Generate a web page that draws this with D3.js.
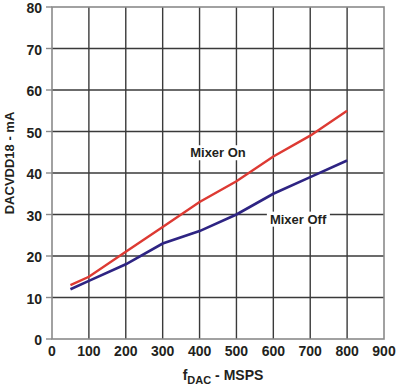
<!DOCTYPE html>
<html lang="en">
  <head>
    <meta charset="UTF-8" />
    <title>DACVDD18 current vs fDAC</title>
  </head>
  <style>
    * {
      margin: 0;
      padding: 0;
    }
    body {
      background: #fff;
    }
    text {
      font-family: "Liberation Sans", Arial, sans-serif;
      font-weight: bold;
      fill: #231f20;
    }
  </style>
  <body>
    <svg id="chart" width="403" height="385"></svg>
  </body>
  <script src="https://d3js.org/d3.v7.min.js"></script>
  <script>
    // 数据
    const fdac = [50, 100, 200, 300, 400, 500, 600, 700, 800];
    const mixerOn = [13, 15, 21, 27, 33, 38, 44, 49, 55];
    const mixerOff = [12, 14, 18, 23, 26, 30, 35, 39, 43];
    const xTicks = [0, 100, 200, 300, 400, 500, 600, 700, 800, 900];
    const yTicks = [0, 10, 20, 30, 40, 50, 60, 70, 80];

    const margin = { top: 7, left: 52, right: 19, bottom: 46 };
    const width = 403;
    const height = 385;

    const svg = d3.select("#chart");

    const xScale = d3.scaleLinear().domain([0, 900]).range([margin.left, width - margin.right]);
    const yScale = d3.scaleLinear().domain([0, 80]).range([height - margin.bottom, margin.top]);

    // 网格
    const grid = svg.append("g");
    grid
      .selectAll("line.v")
      .data(xTicks.slice(1, -1))
      .join("line")
      .attr("x1", (d) => xScale(d))
      .attr("x2", (d) => xScale(d))
      .attr("y1", yScale(80))
      .attr("y2", yScale(0))
      .attr("stroke", "#3a3a3a")
      .attr("stroke-width", 1.4);
    grid
      .selectAll("line.h")
      .data(yTicks.slice(1, -1))
      .join("line")
      .attr("x1", xScale(0))
      .attr("x2", xScale(900))
      .attr("y1", (d) => yScale(d))
      .attr("y2", (d) => yScale(d))
      .attr("stroke", "#3a3a3a")
      .attr("stroke-width", 1.4);

    // 外框
    svg
      .append("rect")
      .attr("x", xScale(0))
      .attr("y", yScale(80))
      .attr("width", xScale(900) - xScale(0))
      .attr("height", yScale(0) - yScale(80))
      .attr("fill", "none")
      .attr("stroke", "#8a8a8a")
      .attr("stroke-width", 1.6);

    // y轴刻度
    svg
      .append("g")
      .selectAll("line")
      .data(yTicks)
      .join("line")
      .attr("x1", xScale(0) - 6)
      .attr("x2", xScale(0))
      .attr("y1", (d) => yScale(d))
      .attr("y2", (d) => yScale(d))
      .attr("stroke", "#8a8a8a")
      .attr("stroke-width", 1.4);

    svg
      .append("g")
      .selectAll("text")
      .data(yTicks)
      .join("text")
      .text((d) => d)
      .attr("x", xScale(0) - 10)
      .attr("y", (d) => yScale(d) + 6)
      .attr("font-size", "14px")
      .attr("text-anchor", "end");

    // x轴刻度
    svg
      .append("g")
      .selectAll("text")
      .data(xTicks)
      .join("text")
      .text((d) => d)
      .attr("x", (d) => xScale(d))
      .attr("y", 356)
      .attr("font-size", "14px")
      .attr("text-anchor", "middle");

    // 轴标题
    const xTitle = svg
      .append("text")
      .attr("x", 223)
      .attr("y", 380)
      .attr("font-size", "14px")
      .attr("text-anchor", "middle");
    xTitle.append("tspan").text("f");
    xTitle.append("tspan").text("DAC").attr("font-size", "11px").attr("dy", 4);
    xTitle.append("tspan").text(" - MSPS").attr("dy", -4);

    svg
      .append("text")
      .text("DACVDD18 - mA")
      .attr("transform", "translate(14,163) rotate(-90)")
      .attr("font-size", "13px")
      .attr("text-anchor", "middle");

    // 曲线
    const line = d3
      .line()
      .x((d, i) => xScale(fdac[i]))
      .y((d) => yScale(d));

    svg
      .append("path")
      .datum(mixerOff)
      .attr("d", line)
      .attr("fill", "none")
      .attr("stroke", "#2e2483")
      .attr("stroke-width", 2.6);

    svg
      .append("path")
      .datum(mixerOn)
      .attr("d", line)
      .attr("fill", "none")
      .attr("stroke", "#dd3a33")
      .attr("stroke-width", 2.4);

    // 标签
    const labels = [
      { text: "Mixer On", x: 450, y: 45 },
      { text: "Mixer Off", x: 667, y: 29 },
    ];
    labels.forEach((l) => {
      const t = svg
        .append("text")
        .text(l.text)
        .attr("x", xScale(l.x))
        .attr("y", yScale(l.y) + 5)
        .attr("font-size", "13px")
        .attr("text-anchor", "middle");
      const b = t.node().getBBox();
      svg
        .insert("rect", () => t.node())
        .attr("x", b.x - 3)
        .attr("y", b.y)
        .attr("width", b.width + 6)
        .attr("height", b.height)
        .attr("fill", "#fff");
    });
  </script>
</html>
